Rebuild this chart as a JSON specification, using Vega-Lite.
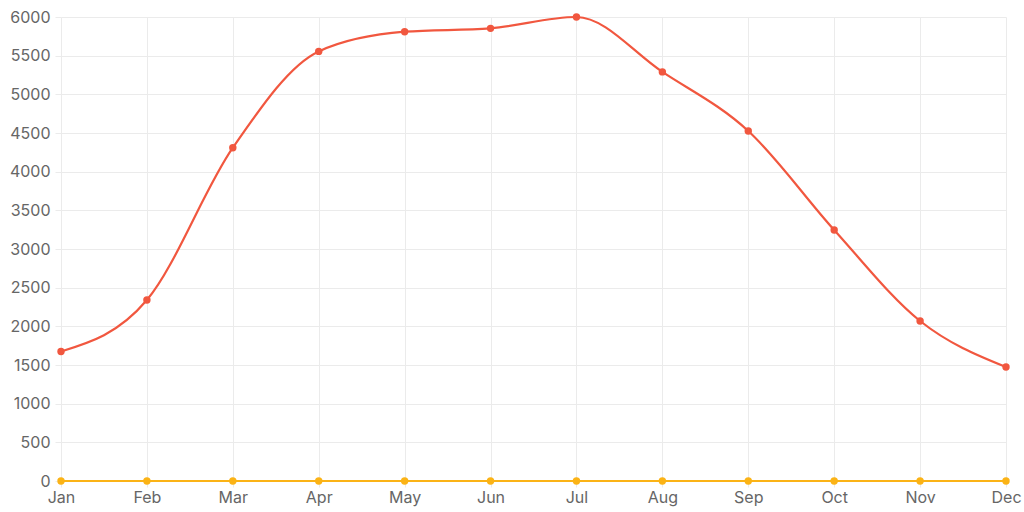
{
  "$schema": "https://vega.github.io/schema/vega-lite/v6.json",
  "width": 963,
  "height": 464,
  "autosize": "none",
  "padding": {"left": 61, "top": 17, "right": 0, "bottom": 31},
  "config": {
    "view": {"stroke": null},
    "axis": {
      "labelFont": "Inter",
      "labelFontSize": 16,
      "labelColor": "#666666",
      "gridColor": "#ebebeb",
      "tickColor": "#ebebeb",
      "domain": false,
      "title": null
    }
  },
  "data": {
    "values": [
      {"month": "Jan", "series": "A", "value": 1675},
      {"month": "Feb", "series": "A", "value": 2340},
      {"month": "Mar", "series": "A", "value": 4310},
      {"month": "Apr", "series": "A", "value": 5555},
      {"month": "May", "series": "A", "value": 5810},
      {"month": "Jun", "series": "A", "value": 5853},
      {"month": "Jul", "series": "A", "value": 6000},
      {"month": "Aug", "series": "A", "value": 5290},
      {"month": "Sep", "series": "A", "value": 4526},
      {"month": "Oct", "series": "A", "value": 3246},
      {"month": "Nov", "series": "A", "value": 2069},
      {"month": "Dec", "series": "A", "value": 1474},
      {"month": "Jan", "series": "B", "value": 0},
      {"month": "Feb", "series": "B", "value": 0},
      {"month": "Mar", "series": "B", "value": 0},
      {"month": "Apr", "series": "B", "value": 0},
      {"month": "May", "series": "B", "value": 0},
      {"month": "Jun", "series": "B", "value": 0},
      {"month": "Jul", "series": "B", "value": 0},
      {"month": "Aug", "series": "B", "value": 0},
      {"month": "Sep", "series": "B", "value": 0},
      {"month": "Oct", "series": "B", "value": 0},
      {"month": "Nov", "series": "B", "value": 0},
      {"month": "Dec", "series": "B", "value": 0}
    ]
  },
  "encoding": {
    "x": {
      "field": "month",
      "type": "ordinal",
      "sort": null,
      "scale": {"type": "point", "range": [0, 945], "padding": 0},
      "axis": {"labelAngle": 0, "grid": true, "tickSize": 6, "labelPadding": 2}
    },
    "y": {
      "field": "value",
      "type": "quantitative",
      "scale": {"domain": [0, 6000], "nice": false},
      "axis": {"values": [0,500,1000,1500,2000,2500,3000,3500,4000,4500,5000,5500,6000], "format": "d", "tickSize": 6, "labelPadding": 5}
    },
    "color": {
      "field": "series",
      "type": "nominal",
      "scale": {"domain": ["A", "B"], "range": ["#f1573f", "#fbb316"]},
      "legend": null
    }
  },
  "layer": [
    {"mark": {"type": "line", "interpolate": "monotone", "strokeWidth": 2.2}},
    {"mark": {"type": "point", "filled": true, "opacity": 1, "size": 55}}
  ]
}
